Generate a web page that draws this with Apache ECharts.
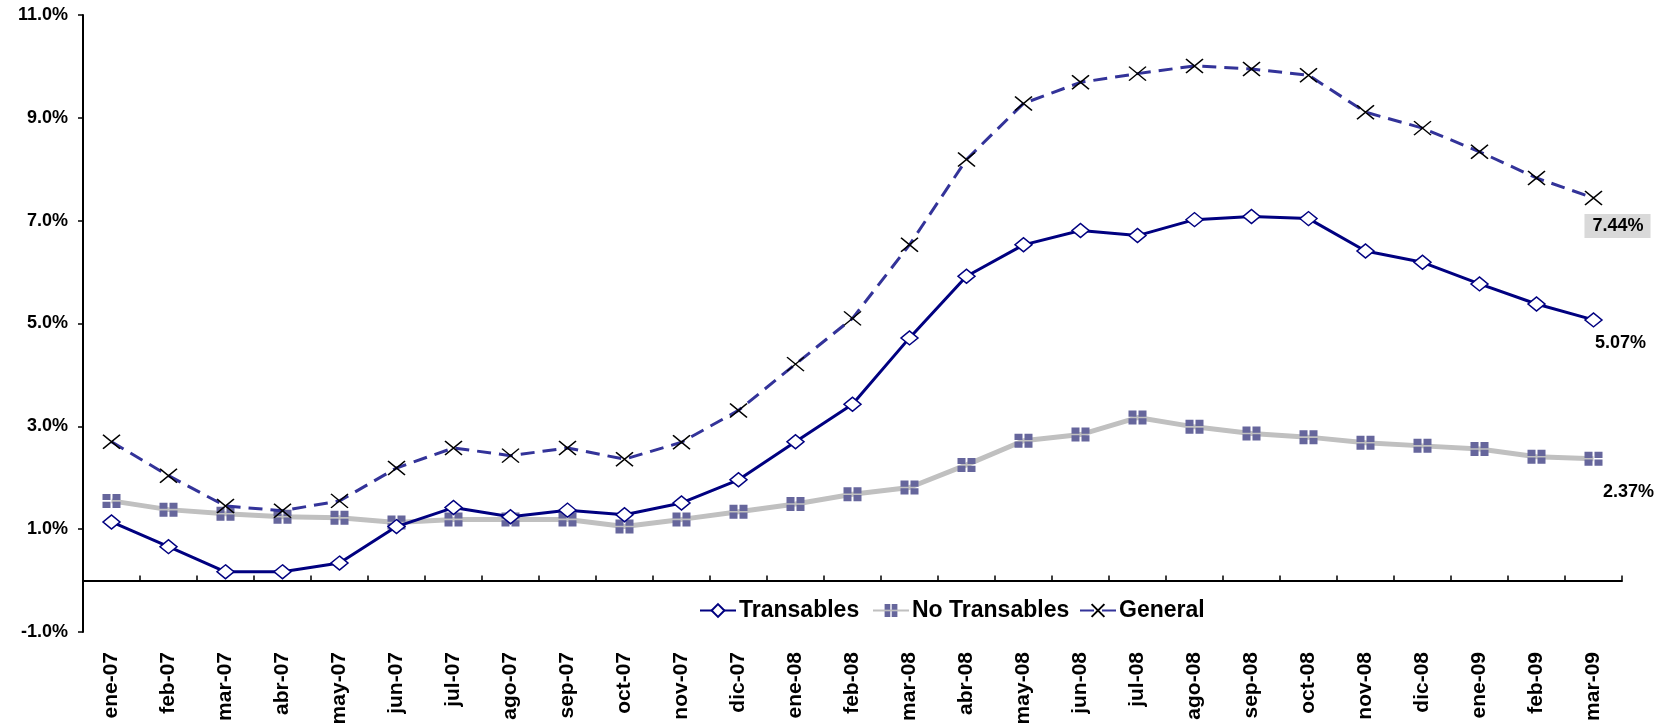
<!DOCTYPE html>
<html>
<head>
<meta charset="utf-8">
<script src="https://cdn.jsdelivr.net/npm/echarts@6/dist/echarts.min.js"></script>
<style>
    html, body { margin: 0; padding: 0; background: #fff; }
    #chart { width: 1665px; height: 727px; }
</style>
</head>
<body>
<div id="chart"></div>
<script>
    var months = ['ene-07', 'feb-07', 'mar-07', 'abr-07', 'may-07', 'jun-07', 'jul-07', 'ago-07', 'sep-07',
        'oct-07', 'nov-07', 'dic-07', 'ene-08', 'feb-08', 'mar-08', 'abr-08', 'may-08', 'jun-08', 'jul-08',
        'ago-08', 'sep-08', 'oct-08', 'nov-08', 'dic-08', 'ene-09', 'feb-09', 'mar-09'];
    var transables = [1.14, 0.66, 0.17, 0.17, 0.34, 1.05, 1.42, 1.24, 1.37, 1.28, 1.51, 1.96, 2.70, 3.43,
        4.72, 5.92, 6.53, 6.81, 6.71, 7.02, 7.08, 7.04, 6.41, 6.19, 5.77, 5.38, 5.07];
    var noTransables = [1.55, 1.38, 1.30, 1.24, 1.22, 1.13, 1.19, 1.19, 1.19, 1.05, 1.19, 1.34, 1.49, 1.68,
        1.81, 2.25, 2.72, 2.84, 3.17, 2.99, 2.86, 2.79, 2.68, 2.62, 2.56, 2.41, 2.37];
    var general = [2.70, 2.04, 1.45, 1.36, 1.55, 2.19, 2.58, 2.43, 2.58, 2.36, 2.69, 3.31, 4.21, 5.10,
        6.53, 8.19, 9.28, 9.69, 9.86, 10.01, 9.95, 9.83, 9.11, 8.80, 8.34, 7.83, 7.44];

    var font = 'Liberation Sans, Arial, sans-serif';

    // etiqueta solo en el ultimo punto
    function lastLabel(arr, label) {
        return arr.map(function (v, i) {
            if (i !== arr.length - 1) return v;
            return {value: v, label: label};
        });
    }
    function pct(p) { return p.value.toFixed(2) + '%'; }

    // una leyenda por serie para fijar la posicion de cada una
    function legendAt(name, left) {
        return {
            left: left,
            top: 594,
            itemWidth: 36,
            itemHeight: 16,
            textStyle: {fontFamily: font, fontWeight: 'bold', fontSize: 23, color: '#000', padding: [0, 0, 0, -2]},
            data: [name]
        };
    }

    var chart = echarts.init(document.getElementById('chart'), null, {renderer: 'canvas'});
    var option = {
        animation: false,
        backgroundColor: '#fff',
        grid: {left: 83, right: 43, top: 15, bottom: 95, containLabel: false, outerBoundsMode: 'none'},
        legend: [
            legendAt('Transables', 694),
            legendAt('No Transables', 867),
            legendAt('General', 1074)
        ],
        xAxis: {
            type: 'category',
            data: months,
            boundaryGap: true,
            axisLine: {onZero: true, lineStyle: {color: '#000', width: 2}},
            axisTick: {show: true, inside: true, length: 5, interval: 0, lineStyle: {color: '#000', width: 1.5}},
            axisLabel: {
                interval: 0,
                rotate: 90,
                margin: 20,
                color: '#000',
                fontFamily: font,
                fontWeight: 'bold',
                fontSize: 21
            }
        },
        yAxis: {
            type: 'value',
            min: -1,
            max: 11,
            interval: 2,
            axisLine: {show: true, lineStyle: {color: '#000', width: 2}},
            axisTick: {show: true, length: 5, lineStyle: {color: '#000', width: 1.5}},
            splitLine: {show: false},
            axisLabel: {
                margin: 15,
                color: '#000',
                fontFamily: font,
                fontWeight: 'bold',
                fontSize: 18,
                formatter: function (v) { return v.toFixed(1) + '%'; }
            }
        },
        series: [
            {
                name: 'Transables',
                type: 'line',
                z: 4,
                data: lastLabel(transables, {
                    show: true, position: 'inside', offset: [27, 23], formatter: pct,
                    fontFamily: font, fontWeight: 'bold', fontSize: 18, color: '#000'
                }),
                symbol: 'diamond',
                symbolSize: [17, 14],
                lineStyle: {color: '#000080', width: 3},
                itemStyle: {color: '#fff', borderColor: '#000080', borderWidth: 1.5}
            },
            {
                name: 'No Transables',
                type: 'line',
                z: 3,
                data: lastLabel(noTransables, {
                    show: true, position: 'inside', offset: [35, 33], formatter: pct,
                    fontFamily: font, fontWeight: 'bold', fontSize: 18, color: '#000'
                }),
                symbol: 'path://M0,0h4v4h-4zM5,0h4v4h-4zM0,5h4v4h-4zM5,5h4v4h-4z',
                symbolSize: [18, 14],
                lineStyle: {color: '#c0c0c0', width: 5},
                itemStyle: {color: '#66669c', borderWidth: 0}
            },
            {
                name: 'General',
                type: 'line',
                z: 5,
                data: lastLabel(general, {
                    show: true, position: 'inside', offset: [24, 28], formatter: pct,
                    fontFamily: font, fontWeight: 'bold', fontSize: 18, color: '#000',
                    backgroundColor: '#d9d9d9', padding: [4, 7, 2, 8]
                }),
                symbol: 'path://M0,0L10,10M10,0L0,10',
                symbolSize: [17, 14],
                lineStyle: {color: '#333399', width: 3, type: [14, 8]},
                itemStyle: {color: 'none', borderColor: '#000', borderWidth: 1.5}
            }
        ]
    };
    chart.setOption(option);
</script>
</body>
</html>
